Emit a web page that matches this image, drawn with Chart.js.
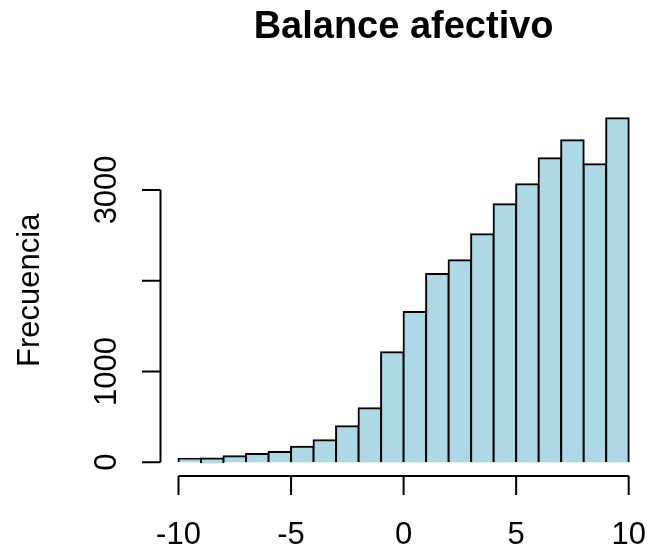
<!DOCTYPE html>
<html>
<head>
<meta charset="utf-8">
<title>Balance afectivo</title>
<script src="https://cdn.jsdelivr.net/npm/chart.js@4.4.1/dist/chart.umd.min.js"></script>
<style>
  html, body { margin: 0; padding: 0; background: #fff; }
  canvas { display: block; }
</style>
</head>
<body>
<canvas id="hist" width="649" height="550"></canvas>
<script>
// histogram bins (width 1, from -10 to 10) and their counts
const binStarts = [-10, -9, -8, -7, -6, -5, -4, -3, -2, -1, 0, 1, 2, 3, 4, 5, 6, 7, 8, 9];
const counts = [36, 40, 66, 91, 113, 172, 242, 396, 595, 1211, 1655, 2074, 2225, 2511, 2841, 3062, 3348, 3546, 3282, 3789];

const xTicks = [-10, -5, 0, 5, 10];
const xTickLabels = ['-10', '-5', '0', '5', '10'];
const yTicks = [0, 1000, 2000, 3000];
const yTickLabels = ['0', '1000', '', '3000'];

const titleText = 'Balance afectivo';
const yTitle = 'Frecuencia';

// R-style 4% extension of the axis ranges
const xMin = binStarts[0], xMax = binStarts[binStarts.length - 1] + 1;
const yTop = Math.max(...counts);
const xPad = (xMax - xMin) * 0.04;
const yPad = yTop * 0.04;

const FONT = '"Liberation Sans", Arial, sans-serif';

// base-graphics look: detached axes, rotated y labels, title over the plot region
const rAxes = {
  id: 'rAxes',
  afterDraw(chart) {
    const ctx = chart.ctx;
    const area = chart.chartArea;
    const xs = chart.scales.x;
    const ys = chart.scales.y;
    ctx.save();
    ctx.strokeStyle = '#000';
    ctx.fillStyle = '#000';
    ctx.lineWidth = 2;
    ctx.lineCap = 'butt';

    // y axis
    const ax = area.left;
    ctx.beginPath();
    ctx.moveTo(ax, ys.getPixelForValue(yTicks[0]));
    ctx.lineTo(ax, ys.getPixelForValue(yTicks[yTicks.length - 1]));
    yTicks.forEach(v => {
      const py = ys.getPixelForValue(v);
      ctx.moveTo(ax - 18.5, py);
      ctx.lineTo(ax, py);
    });
    ctx.stroke();
    ctx.font = '31px ' + FONT;
    ctx.textAlign = 'center';
    ctx.textBaseline = 'alphabetic';
    yTicks.forEach((v, i) => {
      if (!yTickLabels[i]) return;
      ctx.save();
      ctx.translate(115.5, ys.getPixelForValue(v));
      ctx.rotate(-Math.PI / 2);
      ctx.fillText(yTickLabels[i], 0, 0);
      ctx.restore();
    });

    // x axis
    const ay = area.bottom;
    ctx.beginPath();
    ctx.moveTo(xs.getPixelForValue(xTicks[0]), ay);
    ctx.lineTo(xs.getPixelForValue(xTicks[xTicks.length - 1]), ay);
    xTicks.forEach(v => {
      const px = xs.getPixelForValue(v);
      ctx.moveTo(px, ay);
      ctx.lineTo(px, ay + 19);
    });
    ctx.stroke();
    xTicks.forEach((v, i) => {
      ctx.fillText(xTickLabels[i], xs.getPixelForValue(v), 543.5);
    });

    // y title
    ctx.save();
    ctx.translate(38.5, (area.top + area.bottom) / 2);
    ctx.rotate(-Math.PI / 2);
    ctx.fillText(yTitle, 0, 0);
    ctx.restore();

    // main title
    ctx.font = 'bold 38px ' + FONT;
    ctx.fillText(titleText, (area.left + area.right) / 2, 38);
    ctx.restore();
  }
};

new Chart(document.getElementById('hist'), {
  type: 'bar',
  data: {
    datasets: [{
      data: binStarts.map((b, i) => ({ x: b + 0.5, y: counts[i] })),
      backgroundColor: '#add8e6',
      borderColor: '#000',
      borderWidth: 2,
      inflateAmount: 1,
      barPercentage: 1,
      categoryPercentage: 1
    }]
  },
  options: {
    responsive: false,
    animation: false,
    devicePixelRatio: 1,
    layout: { padding: { left: 160.5, right: 2.3, top: 104.5, bottom: 74 } },
    plugins: {
      legend: { display: false },
      tooltip: { enabled: false }
    },
    scales: {
      x: { type: 'linear', min: xMin - xPad, max: xMax + xPad, offset: false, display: false },
      y: { min: -yPad, max: yTop + yPad, display: false }
    }
  },
  plugins: [rAxes]
});
</script>
</body>
</html>
